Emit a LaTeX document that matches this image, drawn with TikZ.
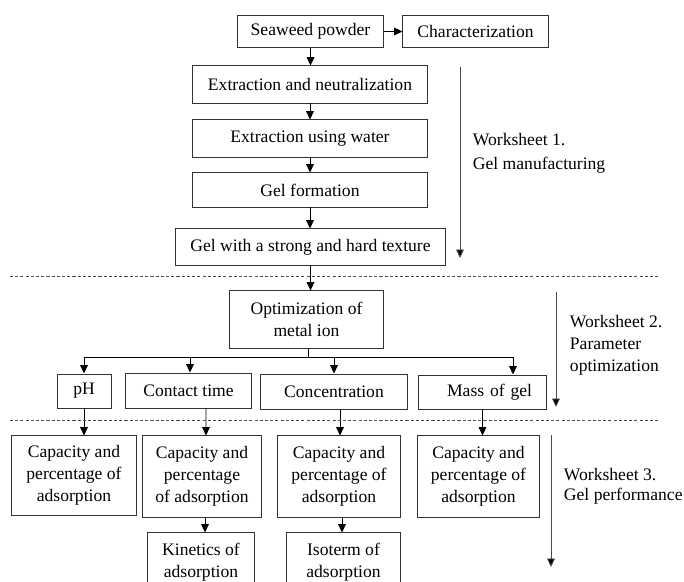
\documentclass[tikz,border=0pt]{standalone}
\usepackage{fontspec}
\setmainfont{Liberation Serif}
\usetikzlibrary{arrows.meta,calc}
\tikzset{>={Triangle[length=6pt,width=5.5pt]}}

\begin{document}
\begin{tikzpicture}[x=0.025cm, y=-0.025cm,
    every node/.style={font=\fontsize{12.5}{15.6}\selectfont},
    box/.style={draw=black!80, line width=0.7pt, inner sep=0pt, align=center},
    link/.style={->, line width=0.6pt},
    sep/.style={black!70, line width=0.5pt, dash pattern=on 2.2pt off 1.5pt},
    sheet/.style={-{Triangle[length=6pt,width=5.5pt,fill=black]}, black!70, line width=0.6pt}]
  \useasboundingbox (0,0) rectangle (684,582);
  \clip (0,0) rectangle (684,582);

  % worksheet 1: gel manufacturing
  \node[box, minimum width=3.625cm, minimum height=0.8cm] (seaweed) at (310.5,31.5) {Seaweed powder};
  \node[box, minimum width=3.625cm, minimum height=0.8cm] (charac) at (475.5,31.5) {Characterization};
  \node[box, minimum width=5.85cm, minimum height=0.925cm] (extract) at (310,84.5) {Extraction and neutralization};
  \node[box, minimum width=5.85cm, minimum height=0.925cm] (water) at (310,138.5) {Extraction using water};
  \node[box, minimum width=5.85cm, minimum height=0.85cm] (gelform) at (310,190) {Gel formation};
  \node[box, minimum width=6.725cm, minimum height=0.9cm] (gelhard) at (310.5,247) {Gel with a strong and hard texture};

  \draw[link] (seaweed) -- (charac);
  \draw[link] (seaweed.south) -- (seaweed.south |- extract.north);
  \draw[link] (extract.south) -- (extract.south |- water.north);
  \draw[link] (water.south) -- (water.south |- gelform.north);
  \draw[link] (gelform.south) -- (gelform.south |- gelhard.north);

  % worksheet 2: parameter optimization
  \node[box, minimum width=3.825cm, minimum height=1.425cm] (optim) at (306.5,319.5) {Optimization of\\metal ion};
  \node[box, minimum width=1.35cm, minimum height=0.85cm] (ph) at (84,391) {pH};
  \node[box, minimum width=3.125cm, minimum height=0.875cm] (contact) at (188.5,390.5) {Contact time};
  \node[box, minimum width=3.65cm, minimum height=0.875cm] (conc) at (334,391.5) {Concentration};
  \node[box, text width=2.475cm, inner xsep=0.35cm, minimum height=0.85cm, align=right] (mass) at (482.5,392) {Mass of gel};

  \draw[link] (gelhard.south) -- (gelhard.south |- optim.north);
  \coordinate (split) at (308,357);
  \coordinate (massin) at (513,357);
  \draw[line width=0.6pt] (optim.south -| split) -- (split);
  \draw[line width=0.6pt] (ph |- split) -- (massin);
  \draw[link] (ph |- split) -- (ph);
  \draw[link] ([xshift=1.5*0.025cm]contact.north |- split) -- ([xshift=1.5*0.025cm]contact.north);
  \draw[link] (conc.north |- split) -- (conc);
  \draw[link] (massin) -- (massin |- mass.north);

  % worksheet 3: gel performance
  \node[box, minimum width=3.1cm, minimum height=1.975cm] (capph) at (74,475.5) {Capacity and\\percentage of\\adsorption};
  \node[box, minimum width=2.95cm, minimum height=2.025cm] (capcontact) at (202,476.5) {Capacity and\\percentage\\of adsorption};
  \node[box, minimum width=3.05cm, minimum height=2.025cm] (capconc) at (339,476.5) {Capacity and\\percentage of\\adsorption};
  \node[box, minimum width=3.025cm, minimum height=2.025cm] (capmass) at (478.5,476.5) {Capacity and\\percentage of\\adsorption};
  \node[box, minimum width=2.65cm, minimum height=1.45cm] (kinetic) at (201,562) {Kinetics of\\adsorption};
  \node[box, minimum width=2.825cm, minimum height=1.45cm] (isoterm) at (343.5,562) {Isoterm of\\adsorption};

  \draw[link] (ph.south) -- (ph.south |- capph.north);
  \draw[link] ($(contact.south)+(17.5,0)$) -- ($(capcontact.north)+(4,0)$);
  \draw[link] ($(conc.south)+(6,0)$) -- ($(capconc.north)+(1,0)$);
  \draw[link] (mass.south) -- (mass.south |- capmass.north);
  \draw[link] ($(capcontact.south)+(3,0)$) -- ($(kinetic.north)+(4,0)$);
  \draw[link] ($(capconc.south)+(3,0)$) -- ($(isoterm.north)+(-1.5,0)$);

  % separators between the worksheets
  \draw[sep] (10,276) -- (660,276);
  \draw[sep] (10,420) -- (660,420);

  % worksheet arrows and labels
  \coordinate (ws1top) at (460,67);
  \coordinate (ws1end) at (460,258);
  \coordinate (ws2top) at (556,292);
  \coordinate (ws2end) at (556,407);
  \coordinate (ws3top) at (551,435);
  \coordinate (ws3end) at (551,567);
  \draw[sheet] (ws1top) -- (ws1end);
  \draw[sheet] (ws2top) -- (ws2end);
  \draw[sheet] (ws3top) -- (ws3end);
  \node[anchor=west, align=left] (ws1) at (468,153) {Worksheet 1.\\[1.5pt]Gel manufacturing};
  \node[anchor=west, align=left] (ws2) at (565,345.5) {Worksheet 2.\\Parameter\\optimization};
  \node[anchor=west, align=left] (ws3) at (559,486) {Worksheet 3.\\[-1.5pt]Gel performance};
\end{tikzpicture}
\end{document}
